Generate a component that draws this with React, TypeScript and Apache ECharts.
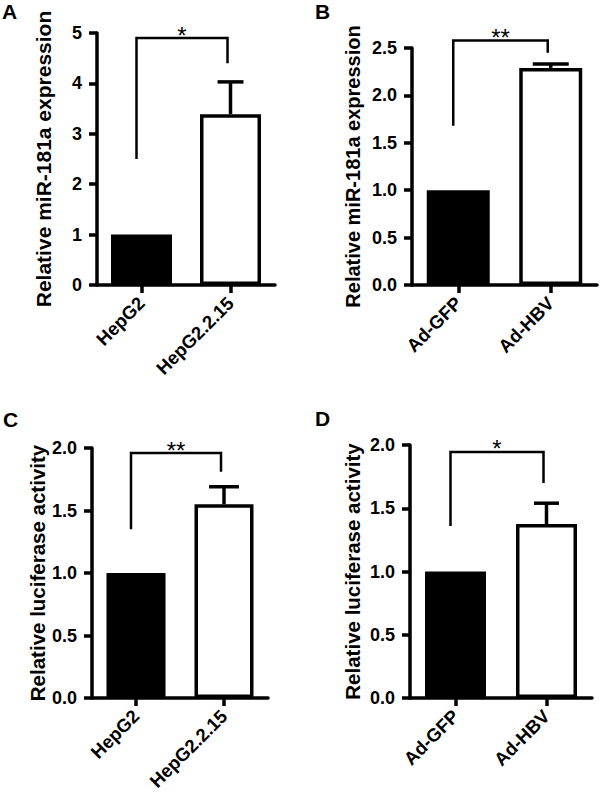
import React, { useEffect, useRef } from "react";
import * as echarts from "echarts";

// ---- data ----
const panelLetters = ["A", "B", "C", "D"];
const yAxisNames = [
  "Relative miR-181a expression",
  "Relative miR-181a expression",
  "Relative luciferase activity",
  "Relative luciferase activity",
];
const categoriesHep = ["HepG2", "HepG2.2.15"];
const categoriesAd = ["Ad-GFP", "Ad-HBV"];
const panelCategories = [categoriesHep, categoriesAd, categoriesHep, categoriesAd];

const meansA = [1.0, 3.39];
const meansB = [1.0, 2.29];
const meansC = [1.0, 1.55];
const meansD = [1.0, 1.375];
const panelMeans = [meansA, meansB, meansC, meansD];

// upper end of the error bar for the second group
const errUpperA = 4.03;
const errUpperB = 2.33;
const errUpperC = 1.69;
const errUpperD = 1.54;
const panelErrUpper = [errUpperA, errUpperB, errUpperC, errUpperD];

// significance brackets: [bracket level, left leg end, right leg end]
const bracketA = [4.9, 2.5, 4.4];
const bracketB = [2.58, 1.68, 2.45];
const bracketC = [1.96, 1.35, 1.81];
const bracketD = [1.945, 1.36, 1.7];
const panelBrackets = [bracketA, bracketB, bracketC, bracketD];
const sigMarks = ["*", "**", "**", "*"];

const yMax = [5, 2.5, 2, 2];
const yInterval = [1, 0.5, 0.5, 0.5];
const yDecimals = [0, 1, 1, 1];

// ---- layout (pixels) ----
const grids = [
  { left: 97, top: 33, width: 178, height: 252 },
  { left: 412, top: 48, width: 185, height: 237 },
  { left: 92, top: 448, width: 176, height: 250 },
  { left: 410, top: 445, width: 182, height: 253 },
];
const barWidths = [61, 63, 59, 61];
const capHalf = [13, 18, 15, 12.5];
const nameGaps = [43, 49, 41, 47];
const nameSizes = [21, 20, 20.5, 20.5];
const letterPos = [
  { x: 2, y: 1 },
  { x: 315, y: 1 },
  { x: 3, y: 409 },
  { x: 315, y: 408 },
];

const FONT = "'Liberation Sans', Arial, Helvetica, sans-serif";
const LW = 3.5;

export default function App() {
  const ref = useRef<HTMLDivElement>(null);

  useEffect(() => {
    if (!ref.current) return;
    const chart = echarts.init(ref.current, undefined, { renderer: "svg" });

    const xAxis: any[] = [];
    const yAxis: any[] = [];
    const series: any[] = [];
    const grid: any[] = [];

    for (let i = 0; i < 4; i++) {
      grid.push({ ...grids[i], containLabel: false, outerBoundsMode: "none" });
      xAxis.push({
        type: "category",
        gridIndex: i,
        data: panelCategories[i],
        boundaryGap: true,
        axisLine: { show: true, lineStyle: { color: "#000", width: LW } },
        axisTick: {
          show: true,
          alignWithLabel: true,
          length: 8,
          lineStyle: { color: "#000", width: LW },
        },
        axisLabel: {
          rotate: 45,
          margin: 15,
          color: "#000",
          fontSize: 18.5,
          fontWeight: "bold",
          fontFamily: FONT,
          interval: 0,
        },
        splitLine: { show: false },
      });
      const dec = yDecimals[i];
      yAxis.push({
        type: "value",
        gridIndex: i,
        min: 0,
        max: yMax[i],
        interval: yInterval[i],
        name: yAxisNames[i],
        nameLocation: "middle",
        nameRotate: 90,
        nameGap: nameGaps[i],
        nameTextStyle: {
          color: "#000",
          fontSize: nameSizes[i],
          fontWeight: "bold",
          fontFamily: FONT,
        },
        axisLine: { show: true, lineStyle: { color: "#000", width: LW } },
        axisTick: { show: true, length: 8, lineStyle: { color: "#000", width: LW } },
        axisLabel: {
          margin: 15,
          color: "#000",
          fontSize: 18,
          fontWeight: "bold",
          fontFamily: FONT,
          formatter: (v: number) => v.toFixed(dec),
        },
        splitLine: { show: false },
      });

      series.push({
        type: "bar",
        xAxisIndex: i,
        yAxisIndex: i,
        barWidth: barWidths[i],
        data: panelMeans[i].map((v, k) => ({
          value: v,
          itemStyle:
            k === 0
              ? { color: "#000", borderColor: "#000", borderWidth: 0 }
              : { color: "#fff", borderColor: "#000", borderWidth: LW },
        })),
        z: 2,
      });

      const half = capHalf[i];
      series.push({
        type: "custom",
        xAxisIndex: i,
        yAxisIndex: i,
        clip: false,
        z: 3,
        encode: { x: 0, y: 1 },
        data: [[1, panelMeans[i][1], panelErrUpper[i]]],
        renderItem: (params: any, api: any) => {
          const x = api.value(0);
          const p0 = api.coord([x, api.value(1)]);
          const p1 = api.coord([x, api.value(2)]);
          return {
            type: "group",
            children: [
              {
                type: "line",
                shape: { x1: p0[0], y1: p0[1], x2: p1[0], y2: p1[1] },
                style: { stroke: "#000", lineWidth: LW },
              },
              {
                type: "line",
                shape: { x1: p1[0] - half, y1: p1[1], x2: p1[0] + half, y2: p1[1] },
                style: { stroke: "#000", lineWidth: LW },
              },
            ],
          };
        },
      });

      const br = panelBrackets[i];
      const mark = sigMarks[i];
      series.push({
        type: "custom",
        xAxisIndex: i,
        yAxisIndex: i,
        clip: false,
        z: 3,
        encode: { x: 0, y: 2 },
        data: [[0, 1, br[0], br[1], br[2]]],
        renderItem: (params: any, api: any) => {
          const a = api.coord([api.value(0), api.value(2)]);
          const b = api.coord([api.value(1), api.value(2)]);
          const la = api.coord([api.value(0), api.value(3)]);
          const lb = api.coord([api.value(1), api.value(4)]);
          const xa = a[0] - 5;
          const xb = b[0] - 3;
          return {
            type: "group",
            children: [
              {
                type: "polyline",
                shape: {
                  points: [
                    [xa, la[1]],
                    [xa, a[1]],
                    [xb, b[1]],
                    [xb, lb[1]],
                  ],
                },
                style: { stroke: "#000", lineWidth: 2.5, fill: null },
              },
              {
                type: "text",
                x: (xa + xb) / 2,
                y: a[1] - 3,
                style: {
                  text: mark,
                  fill: "#000",
                  font: `24px ${FONT}`,
                  align: "center",
                  verticalAlign: "middle",
                },
              },
            ],
          };
        },
      });
    }

    const graphic = panelLetters.map((t, i) => ({
      type: "text",
      x: letterPos[i].x,
      y: letterPos[i].y,
      style: {
        text: t,
        fill: "#000",
        font: `bold 21px ${FONT}`,
        align: "left",
        verticalAlign: "top",
      },
    }));

    chart.setOption({
      animation: false,
      backgroundColor: "#fff",
      grid,
      xAxis,
      yAxis,
      series,
      graphic,
    });

    return () => chart.dispose();
  }, []);

  return (
    <div
      ref={ref}
      style={{ position: "fixed", left: 0, top: 0, width: 600, height: 798 }}
    />
  );
}
